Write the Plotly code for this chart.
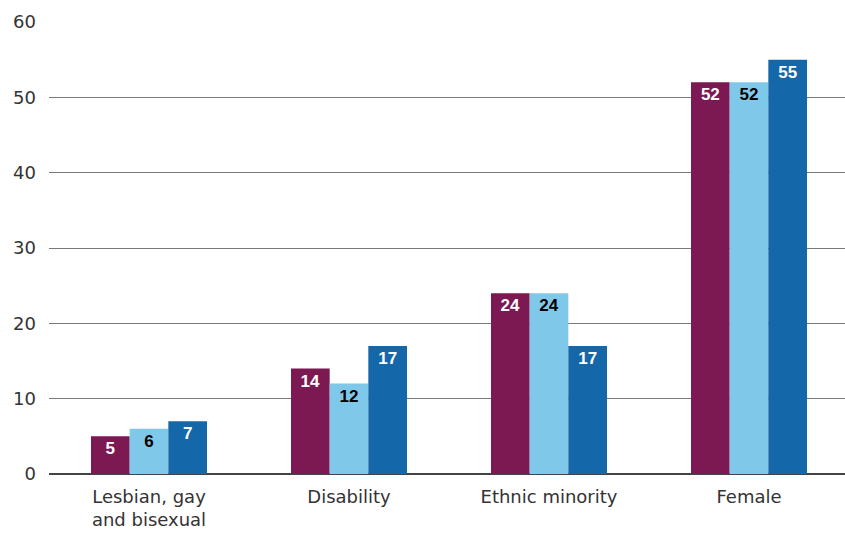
import plotly.graph_objects as go

categories = ["Lesbian, gay<br>and bisexual", "Disability", "Ethnic minority", "Female"]
series_a = [5, 14, 24, 52]
series_b = [6, 12, 24, 52]
series_c = [7, 17, 17, 55]
y_ticks = [0, 10, 20, 30, 40, 50, 60]

colors = ["#7C1952", "#80C8EA", "#1467A9"]
text_colors = ["white", "black", "white"]

fig = go.Figure()
for vals, col, tcol in zip([series_a, series_b, series_c], colors, text_colors):
    fig.add_trace(go.Bar(
        x=categories, y=vals, marker=dict(color=col, line=dict(width=0)),
        text=[str(v) for v in vals], textposition="inside", insidetextanchor="end",
        textfont=dict(color=tcol, size=17, family="Liberation Sans, Arial", weight="bold"),
        textangle=0, constraintext="none", cliponaxis=False,
    ))

fig.update_layout(
    width=845, height=534, barmode="group", bargap=0.42, bargroupgap=0,
    showlegend=False, plot_bgcolor="white", paper_bgcolor="white",
    margin=dict(l=49, r=0, t=22, b=60),
    font=dict(family="DejaVu Sans", size=18, color="#333333"),
    uniformtext=dict(minsize=17, mode="show"),
)
fig.update_xaxes(range=[-0.5, 3.48], showgrid=False, showline=False, ticks="",
                 ticklabelstandoff=10,
                 tickfont=dict(family="DejaVu Sans", size=18, color="#333333"))
fig.update_yaxes(range=[0, 60], tickvals=y_ticks, showgrid=True, gridcolor="#7a7a7a",
                 gridwidth=1, zeroline=True, zerolinecolor="#444444", zerolinewidth=1.5,
                 ticks="", ticklabelstandoff=12,
                 tickfont=dict(family="DejaVu Sans", size=18, color="#333333"))

fig.write_html("out.html")
